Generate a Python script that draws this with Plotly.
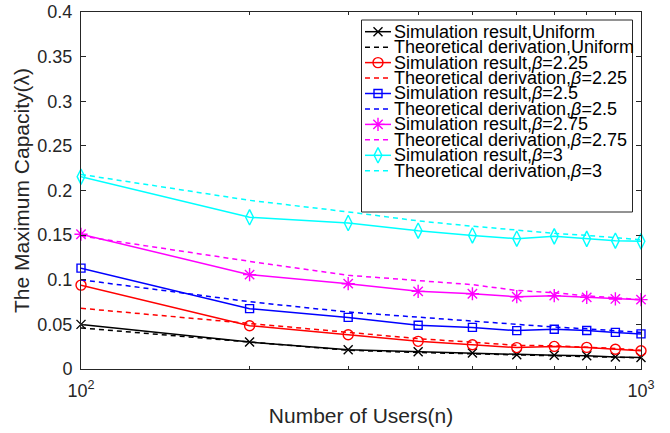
import plotly.graph_objects as go

# ---------------- data ----------------
n_users = [100, 200, 300, 400, 500, 600, 700, 800, 900, 1000]

sim_uniform = [0.050, 0.0302, 0.0216, 0.0194, 0.0179, 0.0160, 0.0153, 0.0149, 0.0134, 0.0130]
theo_uniform = [0.046, 0.0300, 0.0210, 0.0185, 0.0170, 0.0155, 0.0145, 0.0140, 0.0130, 0.0125]

sim_b225 = [0.094, 0.0485, 0.0384, 0.0310, 0.0272, 0.0240, 0.0253, 0.0242, 0.0222, 0.0204]
theo_b225 = [0.068, 0.0508, 0.0403, 0.0340, 0.0300, 0.0265, 0.0260, 0.0245, 0.0230, 0.0210]

sim_b25 = [0.113, 0.0676, 0.0578, 0.0490, 0.0466, 0.0430, 0.0446, 0.0432, 0.0410, 0.0393]
theo_b25 = [0.100, 0.0754, 0.0638, 0.0580, 0.0540, 0.0500, 0.0470, 0.0450, 0.0430, 0.0410]

sim_b275 = [0.151, 0.1057, 0.0956, 0.0870, 0.0843, 0.0810, 0.0822, 0.0803, 0.0785, 0.0777]
theo_b275 = [0.149, 0.1206, 0.1050, 0.0990, 0.0945, 0.0880, 0.0855, 0.0820, 0.0795, 0.0778]

sim_b3 = [0.2155, 0.170, 0.1636, 0.1550, 0.1497, 0.1460, 0.1486, 0.1458, 0.1438, 0.1430]
theo_b3 = [0.218, 0.189, 0.1760, 0.1660, 0.1600, 0.1555, 0.1520, 0.1497, 0.1470, 0.1448]

y_tick_vals = [0, 0.05, 0.1, 0.15, 0.2, 0.25, 0.3, 0.35, 0.4]
y_tick_text = ["0", "0.05", "0.1", "0.15", "0.2", "0.25", "0.3", "0.35", "0.4"]
x_tick_vals = [100, 1000]
x_tick_text = ["10<sup>2</sup>", "10<sup>3</sup>"]
x_minor_vals = [200, 300, 400, 500, 600, 700, 800, 900]

legend_labels = [
    "Simulation result,Uniform",
    "Theoretical derivation,Uniform",
    "Simulation result,<i>β</i>=2.25",
    "Theoretical derivation,<i>β</i>=2.25",
    "Simulation result,<i>β</i>=2.5",
    "Theoretical derivation,<i>β</i>=2.5",
    "Simulation result,<i>β</i>=2.75",
    "Theoretical derivation,<i>β</i>=2.75",
    "Simulation result,<i>β</i>=3",
    "Theoretical derivation,<i>β</i>=3",
]

# ---------------- styles ----------------
FONT = "Liberation Sans, Arial, Helvetica, sans-serif"
series = [
    (sim_uniform, "black", "solid", "x-thin-open", 9),
    (theo_uniform, "black", "5px,4px", None, 0),
    (sim_b225, "#FF0000", "solid", "circle-open", 10),
    (theo_b225, "#FF0000", "5px,4px", None, 0),
    (sim_b25, "#0000FF", "solid", "square-open", 8),
    (theo_b25, "#0000FF", "5px,4px", None, 0),
    (sim_b275, "#FF00FF", "solid", "asterisk-open", 11),
    (theo_b275, "#FF00FF", "5px,4px", None, 0),
    (sim_b3, "#00FFFF", "solid", "diamond-tall-open", 11),
    (theo_b3, "#00FFFF", "5px,4px", None, 0),
]

W, H = 670, 433
L, R, T, B = 81, 29, 12, 64
PW, PH = W - L - R, H - T - B


def px_x(x):
    return (x - L) / PW


def px_y(y):
    return (H - B - y) / PH


fig = go.Figure()

for (vals, color, dash, sym, msz), label in zip(series, legend_labels):
    mode = "lines+markers" if sym else "lines"
    fig.add_trace(go.Scatter(
        x=n_users, y=vals, mode=mode, name=label, showlegend=False,
        line=dict(color=color, width=1.5, dash=dash),
        marker=dict(symbol=sym or "circle", size=msz, color=color,
                    line=dict(color=color, width=1.4)),
        cliponaxis=False,
    ))

# ---------------- manual legend (MATLAB-style compact box) ----------------
box_x0, box_x1 = px_x(361.5), px_x(632.5)
box_y0, box_y1 = px_y(212), px_y(20)
fig.add_shape(type="rect", xref="paper", yref="paper",
              x0=box_x0, x1=box_x1, y0=box_y0, y1=box_y1,
              line=dict(color="#262626", width=1), fillcolor="white", layer="below")

row0, row_step = 31.7, 15.45
sx0, sxm, sx1, tx = px_x(365), px_x(378), px_x(391), px_x(392.5)
for i, ((vals, color, dash, sym, msz), label) in enumerate(zip(series, legend_labels)):
    yy = px_y(row0 + i * row_step)
    fig.add_trace(go.Scatter(
        x=[sx0, sx1], y=[yy, yy], mode="lines", xaxis="x2", yaxis="y2",
        showlegend=False, hoverinfo="skip",
        line=dict(color=color, width=1.5, dash=dash), cliponaxis=False))
    if sym:
        fig.add_trace(go.Scatter(
            x=[sxm], y=[yy], mode="markers", xaxis="x2", yaxis="y2",
            showlegend=False, hoverinfo="skip", cliponaxis=False,
            marker=dict(symbol=sym, size=msz, color=color,
                        line=dict(color=color, width=1.4))))
    fig.add_annotation(x=tx, y=yy, xref="paper", yref="paper", text=label,
                       showarrow=False, xanchor="left", yanchor="middle",
                       borderpad=0,
                       font=dict(family=FONT, size=18, color="black"))

axis_common = dict(showgrid=False, zeroline=False, showline=True,
                   linecolor="#262626", linewidth=1, ticks="inside",
                   tickcolor="#262626", mirror="allticks", automargin=False,
                   tickfont=dict(family=FONT, size=18, color="#262626"))

fig.update_layout(
    width=W, height=H,
    margin=dict(l=L, r=R, t=T, b=B, pad=0, autoexpand=False),
    paper_bgcolor="white", plot_bgcolor="white",
    showlegend=False,
    xaxis=dict(type="log", range=[2, 3], tickmode="array",
               tickvals=x_tick_vals, ticktext=x_tick_text, ticklen=5,
               ticklabelstandoff=5,
               minor=dict(tickmode="array", tickvals=x_minor_vals,
                          ticks="inside", ticklen=3, tickcolor="#262626"),
               title=dict(text="Number of Users(n)", standoff=8,
                          font=dict(family=FONT, size=21, color="#262626")),
               **axis_common),
    yaxis=dict(range=[0, 0.4], tickmode="array", tickvals=y_tick_vals,
               ticktext=y_tick_text, ticklen=5, ticklabelstandoff=4,
               title=dict(text="The Maximum Capacity(λ)", standoff=2,
                          font=dict(family=FONT, size=21, color="#262626")),
               **axis_common),
    xaxis2=dict(overlaying="x", range=[0, 1], visible=False, fixedrange=True),
    yaxis2=dict(overlaying="y", range=[0, 1], visible=False, fixedrange=True),
)

fig.write_html("out.html")
